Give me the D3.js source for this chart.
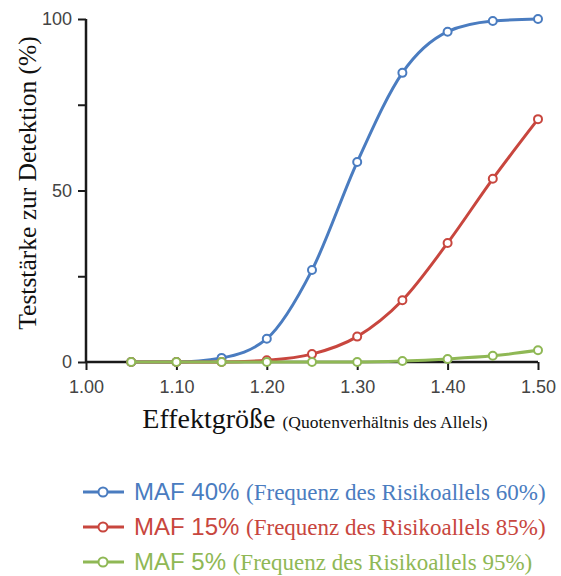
<!DOCTYPE html>
<html>
<head>
<meta charset="utf-8">
<script src="https://cdn.jsdelivr.net/npm/d3@7"></script>
<style>
  body { margin: 0; background: #fff; }
  .tick text { font-family: "Liberation Sans", Arial, sans-serif; font-size: 18px; fill: #444; }
</style>
</head>
<body>
<div id="chart"></div>
<script>
var width = 561,
    height = 576;

// Effektgröße (odds ratio)
var oddsRatios = [1.05, 1.10, 1.15, 1.20, 1.25, 1.30, 1.35, 1.40, 1.45, 1.50];
var maf40 = [0, 0, 1.2, 6.8, 26.8, 58.3, 84.3, 96.3, 99.4, 100];
var maf15 = [0, 0, 0, 0.5, 2.3, 7.4, 18, 34.7, 53.4, 70.8];
var maf5 = [0, 0, 0, 0, 0, 0, 0.3, 0.9, 1.8, 3.4];
var xTicks = [1.00, 1.10, 1.20, 1.30, 1.40, 1.50];
var yTicks = [0, 25, 50, 75, 100];
var seriesNames = ["MAF 40%", "MAF 15%", "MAF 5%"];
var seriesNotes = ["(Frequenz des Risikoallels 60%)", "(Frequenz des Risikoallels 85%)", "(Frequenz des Risikoallels 95%)"];
var colors = ["#4a7cc0", "#c8463e", "#8fb855"];

var series = [maf40, maf15, maf5];

var x = d3.scaleLinear().domain([1.0, 1.5]).range([86, 538]);
var y = d3.scaleLinear().domain([0, 100]).range([362, 19]);

var svg = d3.select("#chart").append("svg")
    .attr("width", width)
    .attr("height", height);

// axes
var xAxis = svg.append("g")
    .attr("transform", "translate(0," + y(0) + ")")
    .call(d3.axisBottom(x).tickValues(xTicks).tickFormat(d3.format(".2f")).tickSize(8).tickPadding(10));
var yAxis = svg.append("g")
    .attr("transform", "translate(" + x(1.0) + ",0)")
    .call(d3.axisLeft(y).tickValues(yTicks).tickFormat(function(d) { return d % 50 === 0 ? d : ""; }).tickSize(8).tickPadding(6));

[xAxis, yAxis].forEach(function(a) {
  a.select(".domain").attr("stroke", "#1a1a1a").attr("stroke-width", 2.5);
  a.selectAll(".tick line").attr("stroke", "#1a1a1a").attr("stroke-width", 2);
});
xAxis.select(".domain").attr("d", "M" + x(1.0) + ",0H" + x(1.5));
yAxis.select(".domain").attr("d", "M0," + y(0) + "V" + y(100));

// lines
var line = d3.line()
    .x(function(d, i) { return x(oddsRatios[i]); })
    .y(function(d) { return y(d); })
    .curve(d3.curveMonotoneX);

series.forEach(function(s, k) {
  var g = svg.append("g");
  g.append("path")
      .attr("d", line(s))
      .attr("fill", "none")
      .attr("stroke", colors[k])
      .attr("stroke-width", 3);
  g.selectAll("circle")
      .data(s)
    .enter().append("circle")
      .attr("cx", function(d, i) { return x(oddsRatios[i]); })
      .attr("cy", function(d) { return y(d); })
      .attr("r", 4)
      .attr("fill", "#fff")
      .attr("stroke", colors[k])
      .attr("stroke-width", 2);
});

// axis titles
svg.append("text")
    .attr("transform", "translate(36," + 183 + ")rotate(-90)")
    .attr("text-anchor", "middle")
    .style("font-family", "'Liberation Serif', 'Times New Roman', serif")
    .style("font-size", "25.5px")
    .attr("fill", "#111")
    .text("Teststärke zur Detektion (%)");

var xt = svg.append("text")
    .attr("x", 315)
    .attr("y", 428)
    .attr("text-anchor", "middle")
    .style("font-family", "'Liberation Serif', 'Times New Roman', serif")
    .attr("fill", "#111");
xt.append("tspan").style("font-size", "28px").text("Effektgröße ");
xt.append("tspan").style("font-size", "17.5px").text("(Quotenverhältnis des Allels)");

// legend
var legend = svg.selectAll(".legend")
    .data(seriesNames)
  .enter().append("g")
    .attr("class", "legend")
    .attr("transform", function(d, i) { return "translate(0," + (492 + i * 35) + ")"; });

legend.append("line")
    .attr("x1", 83).attr("x2", 124)
    .attr("stroke", function(d, i) { return colors[i]; })
    .attr("stroke-width", 3);
legend.append("circle")
    .attr("cx", 103).attr("r", 4.5)
    .attr("fill", "#fff")
    .attr("stroke", function(d, i) { return colors[i]; })
    .attr("stroke-width", 2);
var lt = legend.append("text")
    .attr("x", 134)
    .attr("y", 8)
    .attr("fill", function(d, i) { return colors[i]; });
lt.append("tspan")
    .style("font-family", "'Liberation Sans', Arial, sans-serif")
    .style("font-size", "24px")
    .text(function(d) { return d + " "; });
lt.append("tspan")
    .style("font-family", "'Liberation Serif', 'Times New Roman', serif")
    .style("font-size", "23px")
    .text(function(d, i) { return seriesNotes[i]; });
</script>
</body>
</html>
